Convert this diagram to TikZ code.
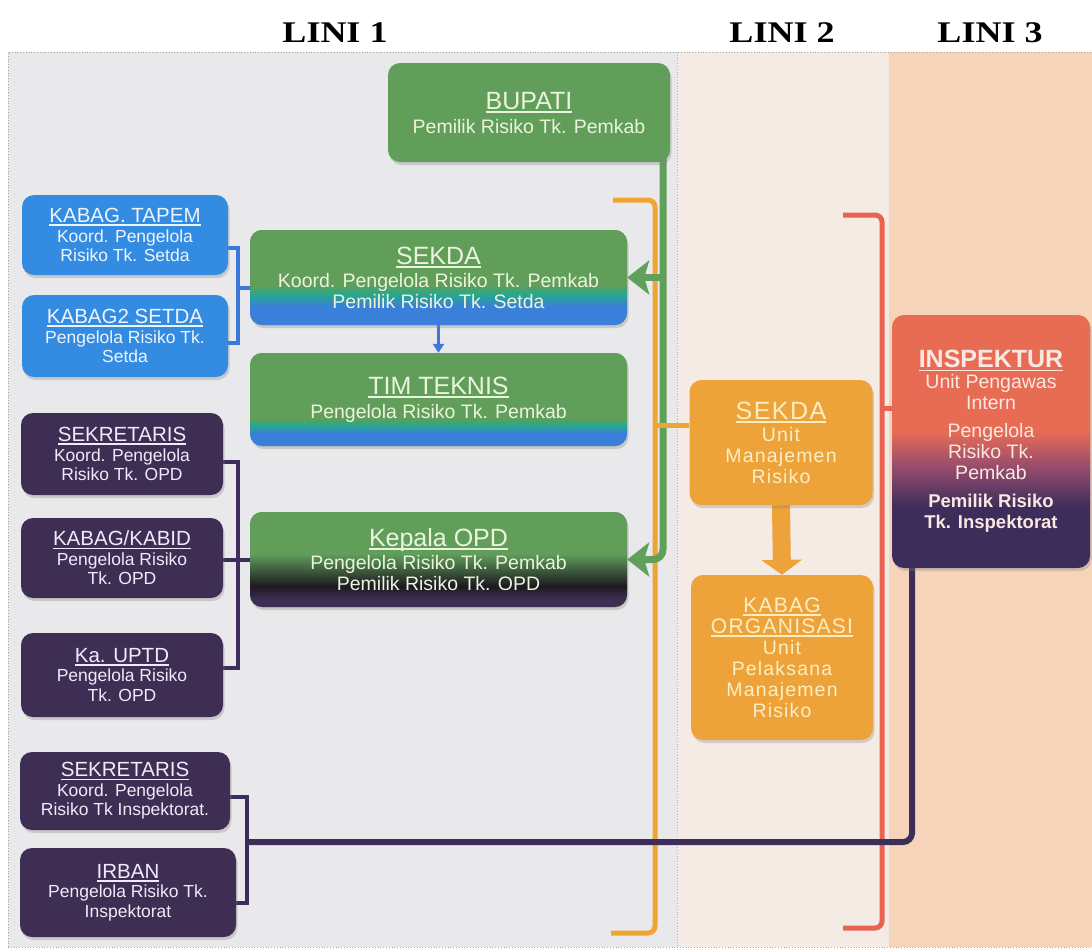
\documentclass[tikz,border=0pt]{standalone}
\usepackage{fontspec}
\setmainfont{Liberation Sans}
\newfontfamily\linifont[FakeStretch=1.2]{Liberation Serif}
\usetikzlibrary{arrows.meta,calc,shadows}

\definecolor{cgreen}{RGB}{96,158,90}
\definecolor{cteal}{RGB}{38,168,140}
\definecolor{cblue}{RGB}{58,128,218}
\definecolor{kblue}{RGB}{52,140,226}
\definecolor{cpurp}{RGB}{62,46,84}
\definecolor{cblack}{RGB}{28,26,32}
\definecolor{corange}{RGB}{238,163,58}
\definecolor{cinsr}{RGB}{232,108,84}
\definecolor{cinsm}{RGB}{150,76,110}
\definecolor{cinsb}{RGB}{60,45,90}
\definecolor{bgone}{RGB}{233,233,235}
\definecolor{bgtwo}{RGB}{244,236,228}
\definecolor{bgthree}{RGB}{246,212,186}
\definecolor{gtext}{RGB}{236,244,222}
\definecolor{ptext}{RGB}{240,234,250}
\definecolor{otext}{RGB}{252,238,196}
\definecolor{btext}{RGB}{238,244,252}
\definecolor{itext}{RGB}{250,232,226}
\definecolor{lgreen}{RGB}{96,160,90}
\definecolor{lorange}{RGB}{238,165,52}
\definecolor{lred}{RGB}{232,100,80}
\definecolor{lpurp}{RGB}{60,45,90}
\definecolor{lblue}{RGB}{58,120,220}

\pgfdeclareverticalshading{shsekda}{100bp}{color(0bp)=(cblue); color(35bp)=(cblue); color(41bp)=(cteal); color(46bp)=(cgreen); color(100bp)=(cgreen)}
\pgfdeclareverticalshading{shtim}{100bp}{color(0bp)=(cblue); color(32bp)=(cblue); color(36bp)=(cteal); color(40bp)=(cgreen); color(100bp)=(cgreen)}
\pgfdeclareverticalshading{shopd}{100bp}{color(0bp)=(cpurp); color(29bp)=(cpurp); color(36bp)=(cblack); color(53bp)=(cgreen); color(100bp)=(cgreen)}
\pgfdeclareverticalshading{shinsp}{100bp}{color(0bp)=(cinsb); color(37bp)=(cinsb); color(45bp)=(cinsm); color(52bp)=(cinsr); color(100bp)=(cinsr)}

\newsavebox\ulbox
\newcommand\ulin[1]{\sbox\ulbox{#1}\rlap{\rule[-3.5pt]{\wd\ulbox}{1.6pt}}\usebox\ulbox}
\newcommand\tbig{\fontsize{25}{27}\selectfont}
\newcommand\tmid{\fontsize{20.5}{22}\selectfont}
\newcommand\tbody{\fontsize{19.5}{21}\selectfont}
\newcommand\tsmall{\fontsize{17.5}{19.5}\selectfont}
\newcommand\torg{\fontsize{21}{22.5}\selectfont}
\newcommand\tibold{\bfseries\fontsize{18.5}{21}\selectfont}

\pgfdeclarelayer{bg}
\pgfdeclarelayer{lines}
\pgfsetlayers{bg,lines,main}

\tikzset{
  box/.style={rounded corners=12pt, inner sep=0pt, align=center,
    drop shadow={opacity=0.3, shadow xshift=1.5pt, shadow yshift=-3pt}},
  greenbox/.style={box, fill=cgreen, text=gtext, font=\tbody},
  bluebox/.style={box, fill=kblue, text=btext, font=\tsmall},
  purpbox/.style={box, fill=cpurp, text=ptext, font=\tsmall},
  orangebox/.style={box, fill=corange, text=otext, font=\tbody\addfontfeature{LetterSpace=6}},
  linititle/.style={font=\linifont\bfseries\fontsize{30}{32}\selectfont, text=black, inner sep=0pt},
  gline/.style={draw=lgreen, line width=7pt},
  oline/.style={draw=lorange, line width=5pt},
  rline/.style={draw=lred, line width=5pt},
  pline/.style={draw=lpurp, line width=4pt},
  pthick/.style={draw=lpurp, line width=6pt},
  bline/.style={draw=lblue, line width=3.5pt},
  garrow/.style={-{Stealth[length=22pt,width=34pt,inset=5pt]}},
}

\begin{document}
\begin{tikzpicture}[x=1pt,y=-1pt]
\useasboundingbox (0,0) rectangle (1092,951);

% titles
\node[linititle] (L1) at (335,33) {LINI 1};
\node[linititle] (L2) at (782,33) {LINI 2};
\node[linititle] (L3) at (990,33) {LINI 3};

% boxes
\node[greenbox, minimum width=282pt, minimum height=99pt] (BUPATI) at (529,112.5)
  {{\tbig\ulin{BUPATI}}\\[3pt]Pemilik Risiko Tk. Pemkab};
\node[greenbox, shade, shading=shsekda, minimum width=377pt, minimum height=95pt] (SEKDAg) at (438.5,277.5)
  {{\tbig\ulin{SEKDA}}\\[2pt]Koord. Pengelola Risiko Tk. Pemkab\\Pemilik Risiko Tk. Setda};
\node[greenbox, shade, shading=shtim, minimum width=377pt, minimum height=93pt] (TIM) at (438.5,399.5)
  {{\tbig\ulin{TIM TEKNIS}}\\[3pt]Pengelola Risiko Tk. Pemkab};
\node[greenbox, shade, shading=shopd, minimum width=377pt, minimum height=95pt] (KOPD) at (438.5,559.5)
  {{\tbig\ulin{Kepala OPD}}\\[2pt]Pengelola Risiko Tk. Pemkab\\Pemilik Risiko Tk. OPD};

\node[bluebox, minimum width=206pt, minimum height=80pt] (TAPEM) at (125,235)
  {{\tmid\ulin{KABAG. TAPEM}}\\Koord. Pengelola\\Risiko Tk. Setda};
\node[bluebox, minimum width=206pt, minimum height=82pt] (KABAG2) at (125,336)
  {{\tmid\ulin{KABAG2 SETDA}}\\Pengelola Risiko Tk.\\Setda};

\node[purpbox, minimum width=202pt, minimum height=82pt] (SEK1) at (122,454)
  {{\tmid\ulin{SEKRETARIS}}\\Koord. Pengelola\\Risiko Tk. OPD};
\node[purpbox, minimum width=202pt, minimum height=80pt] (KABID) at (122,558)
  {{\tmid\ulin{KABAG/KABID}}\\Pengelola Risiko\\Tk. OPD};
\node[purpbox, minimum width=202pt, minimum height=84pt] (UPTD) at (122,675)
  {{\tmid\ulin{Ka. UPTD}}\\Pengelola Risiko\\Tk. OPD};
\node[purpbox, minimum width=210pt, minimum height=78pt] (SEK2) at (125,791)
  {{\tmid\ulin{SEKRETARIS}}\\Koord. Pengelola\\Risiko Tk Inspektorat.};
\node[purpbox, minimum width=216pt, minimum height=89pt] (IRBAN) at (128,892.5)
  {{\tmid\ulin{IRBAN}}\\Pengelola Risiko Tk.\\Inspektorat};

\node[orangebox, minimum width=183pt, minimum height=125pt] (SEKDAo) at (781,442.5)
  {{\tbig\ulin{SEKDA}}\\[1pt]Unit\\Manajemen\\Risiko};
\node[orangebox, minimum width=182pt, minimum height=165pt] (KABAGo) at (782,657.5)
  {{\torg\ulin{KABAG}}\\{\torg\ulin{ORGANISASI}}\\Unit\\Pelaksana\\Manajemen\\Risiko};

\node[box, shade, shading=shinsp, text=itext, font=\tbody, minimum width=198pt, minimum height=253pt] (INSP) at (991,441.5)
  {{\tbig\bfseries\ulin{INSPEKTUR}}\\Unit Pengawas\\Intern\\[7pt]Pengelola\\Risiko Tk.\\Pemkab\\[7pt]{\tibold Pemilik Risiko}\\{\tibold Tk. Inspektorat}};

% background panels
\begin{pgfonlayer}{bg}
  \fill[bgone] (8,52) rectangle (677,947);
  \fill[bgtwo] (677,52) rectangle (889,947);
  \fill[bgthree] (889,52) rectangle (1092,947);
  \draw[gray!70, line width=0.8pt, dotted] (8,947) -- (8,52) -- (1092,52);
  \draw[gray!70, line width=0.8pt, dotted] (8,947) -- (1092,947);
  \draw[gray!60, line width=0.8pt, dotted] (677,52) -- (677,947);
  \draw[orange!40, line width=0.6pt, dotted] (889,52) -- (889,947);
\end{pgfonlayer}

% connectors
\begin{pgfonlayer}{lines}
  % orange bracket (Lini 1)
  \coordinate (oT) at (613,200);
  \coordinate (oX) at (655,200);
  \coordinate (oB) at (611,933);
  \coordinate (oM) at (655,425);
  \draw[oline, rounded corners=7pt] (oT) -- (oX) -- (oX |- oB) -- (oB);
  % green
  \coordinate (gT) at (663,158);
  \draw[gline, garrow, rounded corners=10pt] (gT) |- (KOPD.east);
  \draw[gline, garrow] (gT |- SEKDAg.east) -- (SEKDAg.east);
  \draw[oline] (oM) -- (oM -| SEKDAo.west);
  % red bracket (Lini 2)
  \coordinate (rT) at (843,215);
  \coordinate (rX) at (882,215);
  \coordinate (rB) at (843,928);
  \coordinate (rM) at (882,408);
  \draw[rline, rounded corners=7pt] (rT) -- (rX) -- (rX |- rB) -- (rB);
  \draw[rline] (rM) -- (rM -| INSP.west);
  % blue bracket
  \coordinate (b1) at (238,248);
  \coordinate (b2) at (238,343);
  \coordinate (b3) at (238,288);
  \draw[bline] (b1 -| TAPEM.east) -- (b1) -- (b2) -- (b2 -| KABAG2.east);
  \draw[bline] (b3) -- (b3 -| SEKDAg.west);
  % purple OPD bracket
  \coordinate (p1) at (238,462);
  \coordinate (p2) at (238,668);
  \coordinate (p3) at (238,560);
  \draw[pline] (p1 -| SEK1.east) -- (p1) -- (p2) -- (p2 -| UPTD.east);
  \draw[pline] (p3 -| KABID.east) -- (p3 -| KOPD.west);
  % purple inspektorat bracket
  \coordinate (q1) at (247,797);
  \coordinate (q2) at (247,903);
  \coordinate (q3) at (247,842);
  \coordinate (qx) at (912,842);
  \draw[pline] (q1 -| SEK2.east) -- (q1) -- (q2) -- (q2 -| IRBAN.east);
  \draw[pthick, rounded corners=9pt] (q3) -- (qx) -- (qx |- INSP.south);
  % blue small arrow
  \draw[bline, -{Triangle[length=9pt,width=11pt]}] (SEKDAg.south) -- (TIM.north);
  % orange big arrow
  \draw[draw=corange, line width=18pt, -{Triangle[length=15pt,width=40pt]}] (SEKDAo.south) -- (KABAGo.north);
\end{pgfonlayer}
\end{tikzpicture}
\end{document}
